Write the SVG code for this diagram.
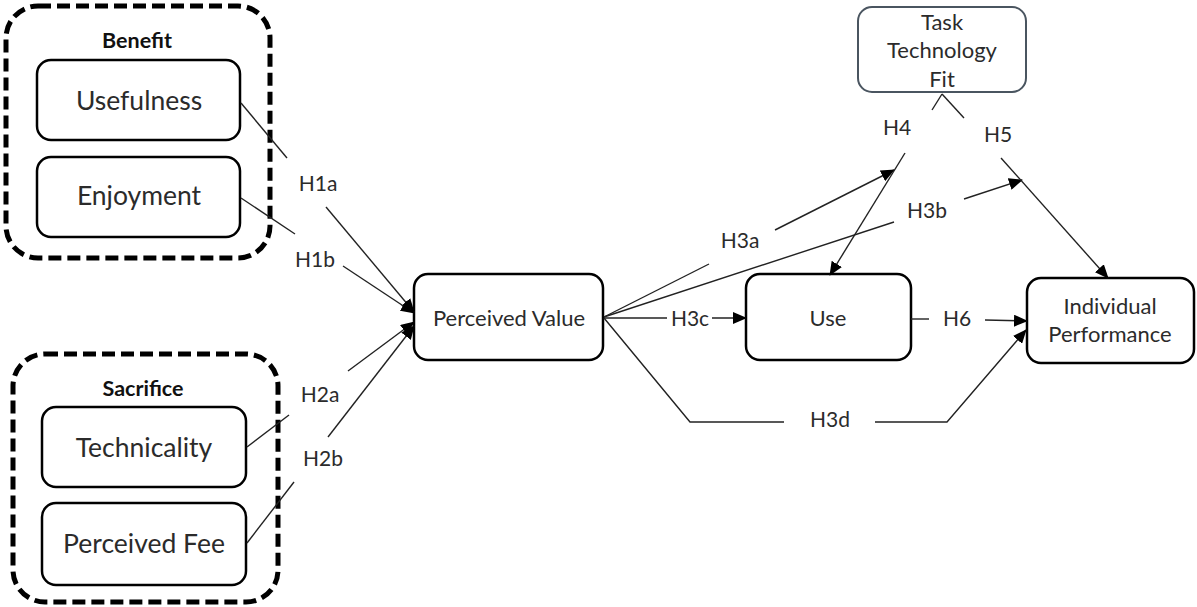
<svg xmlns="http://www.w3.org/2000/svg" width="1197" height="607" viewBox="0 0 1197 607">
<style>
  .group { fill: none; stroke: #000; stroke-width: 5; stroke-dasharray: 13 6; }
  .box { fill: #fff; stroke: #000; stroke-width: 2.5; }
  .ttf { fill: #fff; stroke: #4a5560; stroke-width: 2; }
  .big { font-family: Lato, "Open Sans", sans-serif; font-size: 26.5px; fill: #2b2b2b; text-anchor: middle; }
  .mid { font-family: Lato, "Open Sans", sans-serif; font-size: 22px; fill: #2b2b2b; text-anchor: middle; }
  .hdr { font-family: Lato, "Open Sans", sans-serif; font-size: 21.5px; font-weight: bold; fill: #111; text-anchor: middle; }
  .lbl { font-family: Lato, "Open Sans", sans-serif; font-size: 21px; fill: #2b2b2b; text-anchor: middle; }
  .c { fill: none; stroke: #222; stroke-width: 1.4; }
  .a { marker-end: url(#arr); }
</style>
<defs>
  <marker id="arr" markerUnits="userSpaceOnUse" markerWidth="14" markerHeight="12" refX="13" refY="6" orient="auto">
    <path d="M0,0 L14,6 L0,12 Z" fill="#000"/>
  </marker>
</defs>
<rect width="1197" height="607" fill="#fff"/>

<g id="benefit">
  <rect class="group" x="6" y="6" width="264" height="252" rx="32"/>
  <text class="hdr" x="137" y="48">Benefit</text>
</g>
<g id="usefulness">
  <rect class="box" x="37" y="60" width="203" height="80" rx="14"/>
  <text class="big" x="139" y="110">Usefulness</text>
</g>
<g id="enjoyment">
  <rect class="box" x="37" y="157" width="203" height="80" rx="14"/>
  <text class="big" x="139" y="205">Enjoyment</text>
</g>

<g id="sacrifice">
  <rect class="group" x="13" y="354" width="265" height="248" rx="32"/>
  <text class="hdr" x="143" y="396">Sacrifice</text>
</g>
<g id="technicality">
  <rect class="box" x="42" y="407" width="204" height="80" rx="14"/>
  <text class="big" x="144" y="457">Technicality</text>
</g>
<g id="perceived-fee">
  <rect class="box" x="42" y="503" width="204" height="82" rx="14"/>
  <text class="big" x="144" y="553">Perceived Fee</text>
</g>

<g id="perceived-value">
  <rect class="box" x="414" y="274" width="189" height="86" rx="14"/>
  <text class="mid" x="509" y="326">Perceived Value</text>
</g>
<g id="use">
  <rect class="box" x="746" y="274" width="165" height="86" rx="14"/>
  <text class="mid" x="828" y="326">Use</text>
</g>
<g id="individual-performance">
  <rect class="box" x="1027" y="278" width="167" height="85" rx="14"/>
  <text class="mid" x="1110" y="314">Individual</text>
  <text class="mid" x="1110" y="342">Performance</text>
</g>
<g id="task-technology-fit">
  <rect class="ttf" x="858" y="7" width="168" height="85" rx="14"/>
  <text class="mid" x="942" y="30">Task</text>
  <text class="mid" x="942" y="58">Technology</text>
  <text class="mid" x="942" y="87">Fit</text>
</g>

<g id="connectors">
  <!-- H1a -->
  <line class="c" x1="241" y1="103" x2="287" y2="158"/>
  <line class="c a" x1="326" y1="207" x2="414" y2="312"/>
  <!-- H1b -->
  <line class="c" x1="241" y1="198" x2="295" y2="234"/>
  <line class="c a" x1="343" y1="266" x2="414" y2="313"/>
  <!-- H2a -->
  <line class="c" x1="247" y1="447" x2="289" y2="415"/>
  <line class="c a" x1="348" y1="371" x2="414" y2="322"/>
  <!-- H2b -->
  <line class="c" x1="247" y1="543" x2="294" y2="482"/>
  <line class="c a" x1="328" y1="437" x2="414" y2="326"/>
  <!-- H3a -->
  <line class="c" x1="604" y1="317" x2="709" y2="264"/>
  <line class="c a" x1="775" y1="230" x2="894" y2="170"/>
  <!-- H3b -->
  <line class="c" x1="604" y1="317" x2="894" y2="222"/>
  <line class="c a" x1="964" y1="199" x2="1022" y2="180"/>
  <!-- H3c -->
  <line class="c" x1="604" y1="318" x2="667" y2="318"/>
  <line class="c a" x1="712" y1="318" x2="746" y2="318"/>
  <!-- H3d -->
  <polyline class="c" points="604,318 690,422 784,422"/>
  <polyline class="c a" points="875,422 947,422 1026,330"/>
  <!-- H4 -->
  <line class="c" x1="942" y1="94" x2="932" y2="110"/>
  <line class="c a" x1="905" y1="153" x2="830" y2="275"/>
  <!-- H5 -->
  <line class="c" x1="942" y1="94" x2="964" y2="118"/>
  <line class="c a" x1="1001" y1="158" x2="1108" y2="278"/>
  <!-- H6 -->
  <line class="c" x1="911" y1="319" x2="929" y2="319"/>
  <line class="c a" x1="985" y1="320" x2="1027" y2="321"/>

  <text class="lbl" x="318" y="191">H1a</text>
  <text class="lbl" x="315" y="267">H1b</text>
  <text class="lbl" x="320" y="402">H2a</text>
  <text class="lbl" x="323" y="466">H2b</text>
  <text class="lbl" x="740" y="248">H3a</text>
  <text class="lbl" x="927" y="218">H3b</text>
  <text class="lbl" x="690" y="326">H3c</text>
  <text class="lbl" x="830" y="427">H3d</text>
  <text class="lbl" x="897" y="135">H4</text>
  <text class="lbl" x="998" y="142">H5</text>
  <text class="lbl" x="957" y="326">H6</text>
</g>
</svg>
